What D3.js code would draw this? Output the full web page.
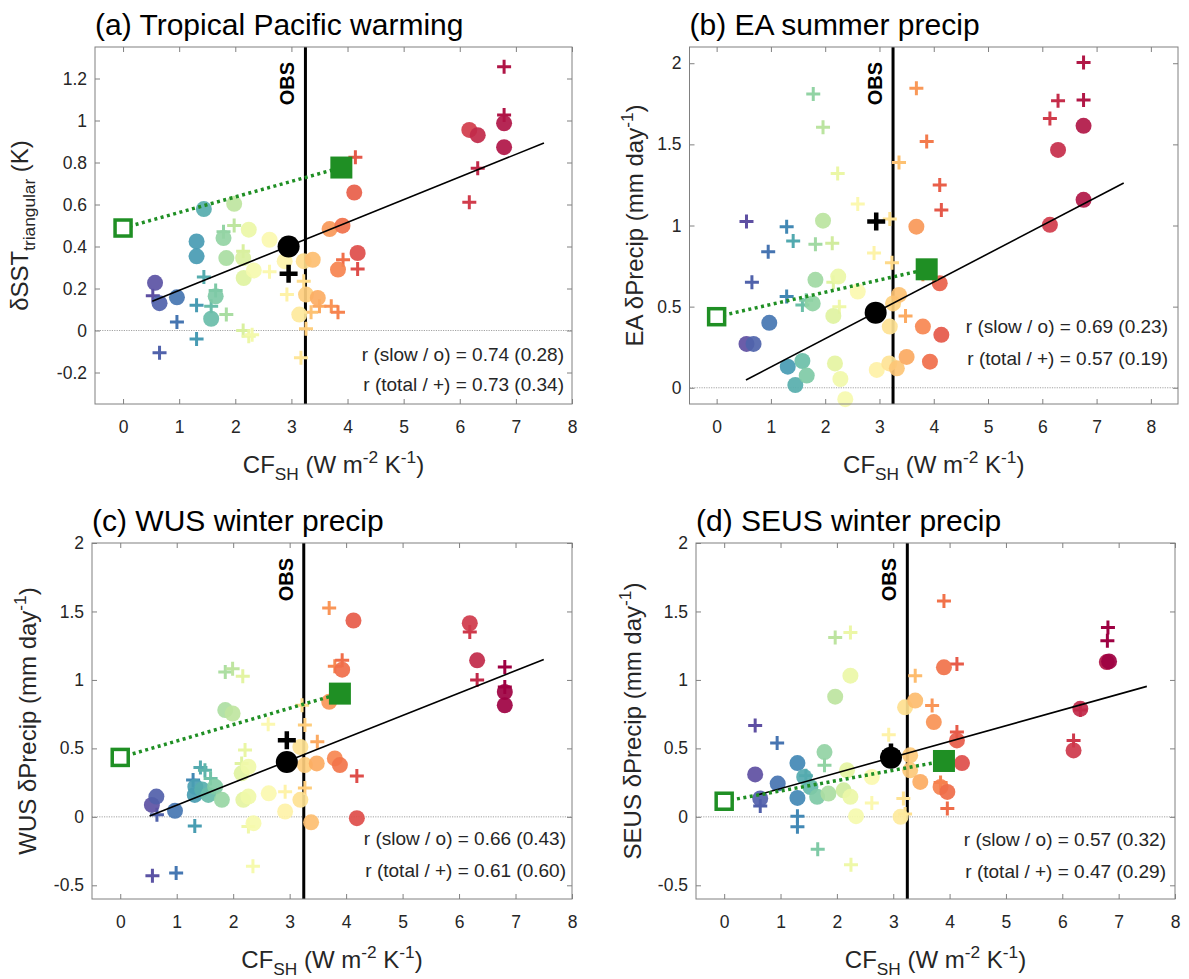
<!DOCTYPE html>
<html>
<head>
<meta charset="utf-8">
<script src="https://cdn.jsdelivr.net/npm/d3@7"></script>
<style>
  body { margin: 0; background: #fff; }
  svg text { font-family: "Liberation Sans", Arial, sans-serif; }
</style>
</head>
<body>
<svg id="fig" width="1189" height="979"></svg>
<script>
// CF_SH of each model, sorted (used to rank the colours)
const cfModels = [0.55, 0.65, 0.96, 1.30, 1.31, 1.44, 1.57, 1.65, 1.79, 1.84, 1.98, 2.13, 2.15, 2.24, 2.33,
  2.61, 2.90, 3.14, 3.22, 3.26, 3.38, 3.47, 3.68, 3.83, 3.91, 4.12, 4.18, 6.17, 6.32, 6.79, 6.80];
const obsCF = 3.25;
const xTicks = [0, 1, 2, 3, 4, 5, 6, 7, 8];

// (a) Tropical Pacific warming  [CF_SH, value]
const slowA = [[0.57, 0.227], [0.65, 0.13], [0.96, 0.158], [1.31, 0.424], [1.31, 0.353], [1.44, 0.578],
  [1.57, 0.056], [1.65, 0.163], [1.79, 0.44], [1.84, 0.345], [1.98, 0.603], [2.14, 0.345], [2.15, 0.25],
  [2.24, 0.48], [2.33, 0.286], [2.61, 0.432], [2.88, 0.33], [3.14, 0.076], [3.22, 0.33], [3.26, 0.171],
  [3.38, 0.337], [3.47, 0.155], [3.68, 0.483], [3.83, 0.29], [3.91, 0.499], [4.12, 0.657], [4.18, 0.369],
  [6.17, 0.955], [6.32, 0.93], [6.79, 0.987], [6.79, 0.873]];
const totalA = [[0.53, 0.166], [0.65, -0.106], [0.96, 0.04], [1.31, -0.04], [1.31, 0.12], [1.44, 0.255],
  [1.57, 0.115], [1.65, 0.19], [1.79, 0.47], [1.84, 0.076], [1.98, 0.5], [2.14, 0.377], [2.14, 0.0],
  [2.24, -0.027], [2.3, -0.02], [2.61, 0.28], [2.92, 0.171], [3.17, -0.13], [3.22, 0.234], [3.26, 0.008],
  [3.35, 0.087], [3.5, 0.115], [3.71, 0.115], [3.83, 0.087], [3.92, 0.337], [4.14, 0.825], [4.18, 0.293],
  [6.17, 0.611], [6.32, 0.773], [6.79, 1.256], [6.79, 1.026]];
const fitA = [[0.52, 0.139], [7.5, 0.893]];
const greenA = [[0, 0.488], [3.89, 0.776]];
const meanSlowA = [2.95, 0.40];
const meanTotalA = [2.95, 0.27];
const rA = ["0.74 (0.28)", "0.73 (0.34)"];
const yTicksA = [-0.2, 0, 0.2, 0.4, 0.6, 0.8, 1, 1.2];

// (b) EA summer precip
const slowB = [[0.55, 0.27], [0.68, 0.27], [0.97, 0.40], [1.31, 0.13], [1.45, 0.017], [1.58, 0.165],
  [1.66, 0.075], [1.77, 0.52], [1.82, 0.665], [1.96, 1.03], [2.15, 0.443], [2.18, 0.15], [2.24, 0.685],
  [2.28, 0.054], [2.37, -0.07], [2.6, 0.593], [2.95, 0.11], [3.18, 0.15], [3.19, 0.377], [3.25, 0.52],
  [3.32, 0.12], [3.36, 0.572], [3.5, 0.19], [3.68, 0.993], [3.8, 0.377], [3.93, 0.161], [4.11, 0.644],
  [4.14, 0.326], [6.14, 1.004], [6.29, 1.466], [6.76, 1.614], [6.76, 1.158]];
const totalB = [[0.55, 1.024], [0.65, 0.65], [0.95, 0.839], [1.29, 0.993], [1.29, 0.562], [1.41, 0.905],
  [1.58, 0.51], [1.65, 0.54], [1.78, 1.81], [1.82, 0.885], [1.96, 1.606], [2.13, 0.89], [2.15, 0.65],
  [2.23, 1.32], [2.26, 0.5], [2.6, 1.133], [2.9, 0.83], [3.19, 1.04], [3.23, 0.77], [3.36, 1.388],
  [3.48, 0.443], [3.68, 1.846], [3.8, 0.7], [3.87, 1.517], [4.11, 1.25], [4.14, 1.096], [6.14, 1.66],
  [6.29, 1.768], [6.76, 2.004], [6.76, 1.774]];
const fitB = [[0.54, 0.048], [7.5, 1.262]];
const greenB = [[0, 0.438], [3.87, 0.73]];
const meanSlowB = [2.93, 0.463];
const meanTotalB = [2.94, 1.024];
const rB = ["0.69 (0.23)", "0.57 (0.19)"];
const yTicksB = [0, 0.5, 1, 1.5, 2];

// (c) WUS winter precip
const slowC = [[0.56, 0.087], [0.64, 0.148], [0.97, 0.044], [1.32, 0.16], [1.33, 0.22], [1.45, 0.2],
  [1.56, 0.16], [1.68, 0.22], [1.8, 0.124], [1.86, 0.78], [1.99, 0.755], [2.15, 0.318], [2.18, 0.124],
  [2.27, 0.148], [2.27, 0.366], [2.36, -0.046], [2.63, 0.172], [2.92, 0.039], [3.19, 0.124], [3.19, 0.51],
  [3.27, 0.378], [3.38, -0.04], [3.48, 0.39], [3.7, 0.84], [3.8, 0.427], [3.89, 0.378], [3.93, 1.075],
  [4.13, 1.434], [4.19, -0.01], [6.19, 1.414], [6.32, 1.143], [6.81, 0.912], [6.81, 0.815]];
const totalC = [[0.57, -0.43], [0.65, 0.015], [0.99, -0.41], [1.29, 0.27], [1.32, -0.066], [1.42, 0.36],
  [1.5, 0.34], [1.6, 0.28], [1.86, 1.058], [1.99, 1.082], [2.17, 1.026], [2.15, 0.39], [2.21, 0.488],
  [2.27, -0.07], [2.35, -0.36], [2.62, 0.677], [2.92, 0.184], [3.22, 0.815], [3.27, 0.67], [3.27, 0.21],
  [3.49, 0.548], [3.7, 1.526], [3.8, 1.1], [3.93, 1.143], [4.19, 0.298], [6.19, 1.35], [6.32, 1.0],
  [6.81, 1.094], [6.81, 0.948]];
const fitC = [[0.52, 0.007], [7.5, 1.15]];
const greenC = [[0, 0.434], [3.89, 0.9]];
const meanSlowC = [2.95, 0.40];
const meanTotalC = [2.95, 0.56];
const rC = ["0.66 (0.43)", "0.61 (0.60)"];
const yTicksCD = [-0.5, 0, 0.5, 1, 1.5, 2];

// (d) SEUS winter precip
const slowD = [[0.55, 0.31], [0.64, 0.134], [0.95, 0.243], [1.3, 0.393], [1.3, 0.138], [1.42, 0.291],
  [1.53, 0.218], [1.65, 0.146], [1.78, 0.473], [1.85, 0.17], [1.97, 0.878], [2.12, 0.194], [2.18, 0.34],
  [2.24, 0.146], [2.24, 1.031], [2.34, 0.005], [2.62, 0.291], [3.13, 0.0], [3.21, 0.8], [3.39, 0.849],
  [3.3, 0.449], [3.3, 0.34], [3.48, 0.255], [3.72, 0.692], [3.9, 1.092], [3.84, 0.218], [3.96, 0.182],
  [4.13, 0.558], [4.22, 0.393], [6.2, 0.485], [6.32, 0.789], [6.79, 1.13], [6.83, 1.135]];
const totalD = [[0.55, 0.667], [0.64, 0.08], [0.94, 0.539], [1.3, 0.005], [1.3, -0.073], [1.45, 0.3],
  [1.66, -0.237], [1.78, 0.376], [1.97, 1.31], [2.24, 1.346], [2.25, -0.35], [2.62, 0.102], [2.92, 0.6],
  [3.18, 0.134], [3.21, 0.02], [3.39, 1.031], [3.69, 0.813], [3.84, 0.25], [3.9, 1.577], [3.96, 0.061],
  [4.13, 1.116], [4.13, 0.62], [6.2, 0.558], [6.32, 0.78], [6.81, 1.383], [6.8, 1.286]];
const fitD = [[0.62, 0.163], [7.5, 0.953]];
const greenD = [[0, 0.114], [3.9, 0.408]];
const meanSlowD = [2.96, 0.432];
const meanTotalD = [2.96, 0.47];
const rD = ["0.57 (0.32)", "0.47 (0.29)"];

// label pieces: [text, kind]
const xLabel = [["CF", "n"], ["SH", "sub"], [" (W m", "n"], ["-2", "sup"], [" K", "n"], ["-1", "sup"], [")", "n"]];
const precipUnit = [["mm day", "n"], ["-1", "sup"], [")", "n"]];

const panels = [
  { title: "(a) Tropical Pacific warming", slow: slowA, total: totalA, fit: fitA, green: greenA,
    meanSlow: meanSlowA, meanTotal: meanTotalA, r: rA, yTicks: yTicksA,
    yLabel: [["δSST", "n"], ["triangular", "sub"], [" (K)", "n"]],
    left: 95, right: 572, top: 47, bottom: 404, xDomain: [-0.5, 8], yDomain: [-0.35, 1.35],
    yLabelX: 28, rRight: 564, rY: [361, 391] },
  { title: "(b) EA summer precip", slow: slowB, total: totalB, fit: fitB, green: greenB,
    meanSlow: meanSlowB, meanTotal: meanTotalB, r: rB, yTicks: yTicksB,
    yLabel: [["EA δPrecip (", "n"]].concat(precipUnit),
    left: 689.5, right: 1178, top: 47, bottom: 404, xDomain: [-0.5, 8.5], yDomain: [-0.1, 2.1],
    yLabelX: 643, rRight: 1168, rY: [333, 365] },
  { title: "(c) WUS winter precip", slow: slowC, total: totalC, fit: fitC, green: greenC,
    meanSlow: meanSlowC, meanTotal: meanTotalC, r: rC, yTicks: yTicksCD,
    yLabel: [["WUS δPrecip (", "n"]].concat(precipUnit),
    left: 92, right: 572, top: 543, bottom: 899, xDomain: [-0.5, 8], yDomain: [-0.6, 2],
    yLabelX: 36, rRight: 566, rY: [845, 877] },
  { title: "(d) SEUS winter precip", slow: slowD, total: totalD, fit: fitD, green: greenD,
    meanSlow: meanSlowD, meanTotal: meanTotalD, r: rD, yTicks: yTicksCD,
    yLabel: [["SEUS δPrecip (", "n"]].concat(precipUnit),
    left: 696, right: 1175, top: 543, bottom: 899, xDomain: [-0.5, 8], yDomain: [-0.6, 2],
    yLabelX: 641, rRight: 1166, rY: [846, 878] }
];

const svg = d3.select("#fig");
const green = "#1f8f24";
const axisGray = "#808080";
const textGray = "#262626";

//Colour follows the rank of the model's CF_SH (Spectral, blue -> red)
const rank = d3.scaleLinear()
  .domain(cfModels)
  .range(cfModels.map((d, i) => i / (cfModels.length - 1)))
  .clamp(true);
const colour = cf => d3.interpolateSpectral(1 - rank(cf));

const plusPath = s => `M${-s},0H${s}M0,${-s}V${s}`;

//Write label made of normal / sub / sup pieces
function addPieces(text, pieces, size) {
  let shift = 0;
  pieces.forEach(([str, kind]) => {
    let target = kind === "sub" ? size * 0.3 : kind === "sup" ? -size * 0.4 : 0;
    text.append("tspan")
      .attr("dy", target - shift)
      .attr("font-size", kind === "n" ? size : size * 0.72)
      .text(str);
    shift = target;
  });
}

function drawPanel(p) {
  const x = d3.scaleLinear().domain(p.xDomain).range([p.left, p.right]);
  const y = d3.scaleLinear().domain(p.yDomain).range([p.bottom, p.top]);
  const g = svg.append("g");

  //Zero line
  g.append("line")
    .attr("x1", p.left).attr("x2", p.right)
    .attr("y1", y(0)).attr("y2", y(0))
    .attr("stroke", "#8c8c8c")
    .attr("stroke-width", 0.8)
    .attr("stroke-dasharray", "1.2,1.2");

  //OBS line
  g.append("line")
    .attr("x1", x(obsCF)).attr("x2", x(obsCF))
    .attr("y1", p.top).attr("y2", p.bottom)
    .attr("stroke", "#000")
    .attr("stroke-width", 3);

  //Total response (+)
  g.selectAll(".plus")
    .data(p.total)
    .join("path")
    .attr("transform", d => `translate(${x(d[0])},${y(d[1])})`)
    .attr("d", plusPath(7))
    .attr("stroke", d => colour(d[0]))
    .attr("stroke-width", 3)
    .attr("fill", "none");

  //Slow response (o)
  g.selectAll(".dot")
    .data(p.slow)
    .join("circle")
    .attr("cx", d => x(d[0]))
    .attr("cy", d => y(d[1]))
    .attr("r", 8)
    .attr("fill", d => colour(d[0]))
    .attr("fill-opacity", 0.92);

  //Regression line
  g.append("line")
    .attr("x1", x(p.fit[0][0])).attr("y1", y(p.fit[0][1]))
    .attr("x2", x(p.fit[1][0])).attr("y2", y(p.fit[1][1]))
    .attr("stroke", "#000")
    .attr("stroke-width", 1.6);

  //Green dotted line between squares
  g.append("line")
    .attr("x1", x(p.green[0][0])).attr("y1", y(p.green[0][1]))
    .attr("x2", x(p.green[1][0])).attr("y2", y(p.green[1][1]))
    .attr("stroke", green)
    .attr("stroke-width", 3.5)
    .attr("stroke-dasharray", "3,3.5");
  g.append("rect")
    .attr("x", x(p.green[0][0]) - 8).attr("y", y(p.green[0][1]) - 8)
    .attr("width", 16).attr("height", 16)
    .attr("fill", "#fff")
    .attr("stroke", green)
    .attr("stroke-width", 3.5);
  g.append("rect")
    .attr("x", x(p.green[1][0]) - 11).attr("y", y(p.green[1][1]) - 11)
    .attr("width", 22).attr("height", 22)
    .attr("fill", green);

  //Multi-model mean
  g.append("path")
    .attr("transform", `translate(${x(p.meanTotal[0])},${y(p.meanTotal[1])})`)
    .attr("d", plusPath(9))
    .attr("stroke", "#000")
    .attr("stroke-width", 4.5);
  g.append("circle")
    .attr("cx", x(p.meanSlow[0]))
    .attr("cy", y(p.meanSlow[1]))
    .attr("r", 11)
    .attr("fill", "#000");

  //OBS text
  g.append("text")
    .attr("transform", `translate(${x(obsCF) - 11},${p.top + 15}) rotate(-90)`)
    .attr("text-anchor", "end")
    .attr("font-weight", "bold")
    .attr("font-size", 20)
    .text("OBS");

  //Axes (ticks inside, MATLAB box)
  const styleAxis = sel => {
    sel.select(".domain").remove();
    sel.selectAll("line").attr("stroke", axisGray);
    sel.selectAll("text")
      .attr("fill", textGray)
      .attr("font-size", 17.5)
      .attr("font-family", "Liberation Sans, Arial, sans-serif");
  };
  g.append("g")
    .attr("transform", `translate(0,${p.bottom})`)
    .call(d3.axisBottom(x).tickValues(xTicks).tickSize(-5).tickPadding(17).tickFormat(d => String(d)))
    .call(styleAxis);
  g.append("g")
    .attr("transform", `translate(0,${p.top})`)
    .call(d3.axisTop(x).tickValues(xTicks).tickSize(-5).tickFormat(""))
    .call(styleAxis);
  g.append("g")
    .attr("transform", `translate(${p.left},0)`)
    .call(d3.axisLeft(y).tickValues(p.yTicks).tickSize(-5).tickPadding(8).tickFormat(d => String(d)))
    .call(styleAxis);
  g.append("g")
    .attr("transform", `translate(${p.right},0)`)
    .call(d3.axisRight(y).tickValues(p.yTicks).tickSize(-5).tickFormat(""))
    .call(styleAxis);
  g.append("rect")
    .attr("x", p.left).attr("y", p.top)
    .attr("width", p.right - p.left).attr("height", p.bottom - p.top)
    .attr("fill", "none")
    .attr("stroke", axisGray)
    .attr("stroke-width", 1);

  //Title
  g.append("text")
    .attr("x", p.left)
    .attr("y", p.top - 12)
    .attr("font-size", 30)
    .attr("fill", "#000")
    .text(p.title);

  //X label
  const xl = g.append("text")
    .attr("x", (p.left + p.right) / 2)
    .attr("y", p.bottom + 69)
    .attr("text-anchor", "middle")
    .attr("fill", textGray);
  addPieces(xl, xLabel, 24);

  //Y label
  const yl = g.append("text")
    .attr("transform", `translate(${p.yLabelX},${(p.top + p.bottom) / 2}) rotate(-90)`)
    .attr("text-anchor", "middle")
    .attr("fill", textGray);
  addPieces(yl, p.yLabel, 24);

  //Correlations
  ["r (slow / o) = ", "r (total / +) = "].forEach((lab, i) => {
    g.append("text")
      .attr("x", p.rRight)
      .attr("y", p.rY[i])
      .attr("text-anchor", "end")
      .attr("font-size", 19)
      .attr("fill", textGray)
      .text(lab + p.r[i]);
  });
}

panels.forEach(drawPanel);
</script>
</body>
</html>
